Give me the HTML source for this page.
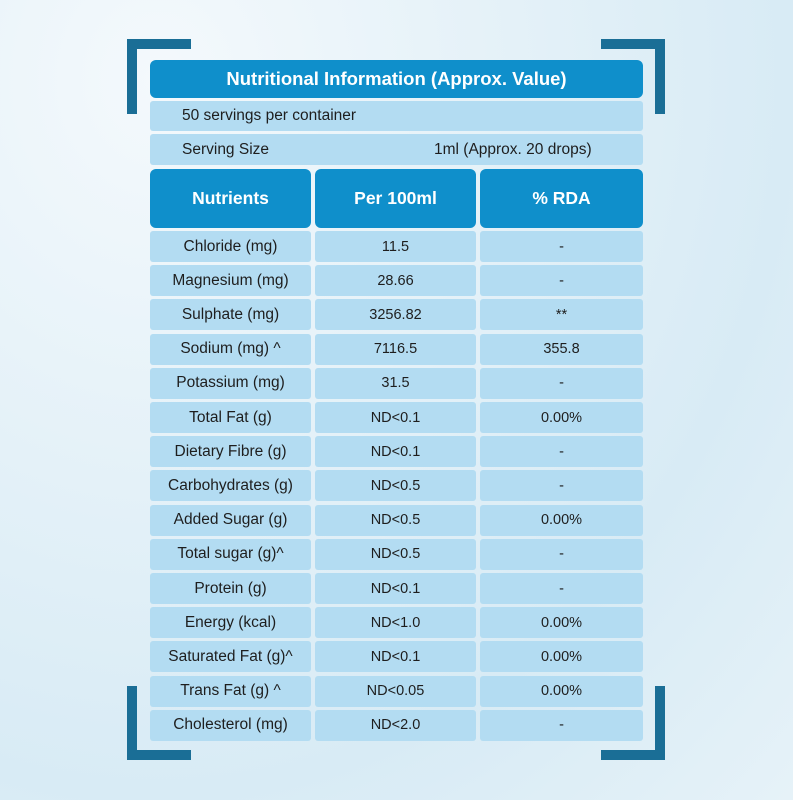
<!DOCTYPE html>
<html><head><meta charset="utf-8"><style>
*{margin:0;padding:0;box-sizing:border-box}
body{width:793px;height:800px;overflow:hidden;position:relative;font-family:"Liberation Sans","DejaVu Sans",sans-serif;
background:radial-gradient(ellipse at 20% 10%,#f4f9fc 0%,#e4f1f8 40%,#d8ebf5 70%,#e6f2f8 100%)}
.b{position:absolute;background:#1a6e96}
.c{position:absolute;background:#b3dcf2;border-radius:3px;color:#1e1e1e;font-size:15.5px;display:flex;align-items:center;justify-content:center}
.h{position:absolute;background:#0f8fcb;color:#fff;font-weight:bold;border-radius:6px;display:flex;align-items:center;justify-content:center;font-size:17.5px}
</style></head><body>
<div class="b" style="left:127px;top:39px;width:64px;height:10px"></div>
<div class="b" style="left:127px;top:39px;width:10px;height:75px"></div>
<div class="b" style="left:601px;top:39px;width:64px;height:10px"></div>
<div class="b" style="left:655px;top:39px;width:10px;height:75px"></div>
<div class="b" style="left:127px;top:750px;width:64px;height:10px"></div>
<div class="b" style="left:127px;top:686px;width:10px;height:74px"></div>
<div class="b" style="left:601px;top:750px;width:64px;height:10px"></div>
<div class="b" style="left:655px;top:686px;width:10px;height:74px"></div>

<div class="h" style="left:150px;top:60px;width:493px;height:38px;font-size:18.5px">Nutritional Information (Approx. Value)</div>
<div class="c" style="left:150px;top:101px;width:493px;height:30px;justify-content:flex-start;padding-left:32px">50 servings per container</div>
<div class="c" style="left:150px;top:134px;width:493px;height:31px;justify-content:flex-start;padding-left:32px">Serving Size<span style="position:absolute;left:284px">1ml (Approx. 20 drops)</span></div>
<div class="h" style="left:150px;top:169px;width:161px;height:59px">Nutrients</div>
<div class="h" style="left:315px;top:169px;width:161px;height:59px">Per 100ml</div>
<div class="h" style="left:480px;top:169px;width:163px;height:59px">% RDA</div>
<div id="rows"></div>
<script>
var d=[["Chloride (mg)","11.5","-"],["Magnesium (mg)","28.66","-"],["Sulphate (mg)","3256.82","**"],["Sodium (mg) ^","7116.5","355.8"],["Potassium (mg)","31.5","-"],["Total Fat (g)","ND<0.1","0.00%"],["Dietary Fibre (g)","ND<0.1","-"],["Carbohydrates (g)","ND<0.5","-"],["Added Sugar (g)","ND<0.5","0.00%"],["Total sugar (g)^","ND<0.5","-"],["Protein (g)","ND<0.1","-"],["Energy (kcal)","ND<1.0","0.00%"],["Saturated Fat (g)^","ND<0.1","0.00%"],["Trans Fat (g) ^","ND<0.05","0.00%"],["Cholesterol (mg)","ND<2.0","-"]];
var h="",L=[150,315,480],W=[161,161,163];
d.forEach(function(r,i){var t=231+i*34.2;for(var j=0;j<3;j++){var s=r[j].replace("<","&lt;");h+='<div class="c" style="left:'+L[j]+'px;top:'+t+'px;width:'+W[j]+'px;height:31px;'+(j>0?'font-size:14.5px':'')+'">'+s+'</div>';}});
document.getElementById("rows").innerHTML=h;
</script>
</body></html>
